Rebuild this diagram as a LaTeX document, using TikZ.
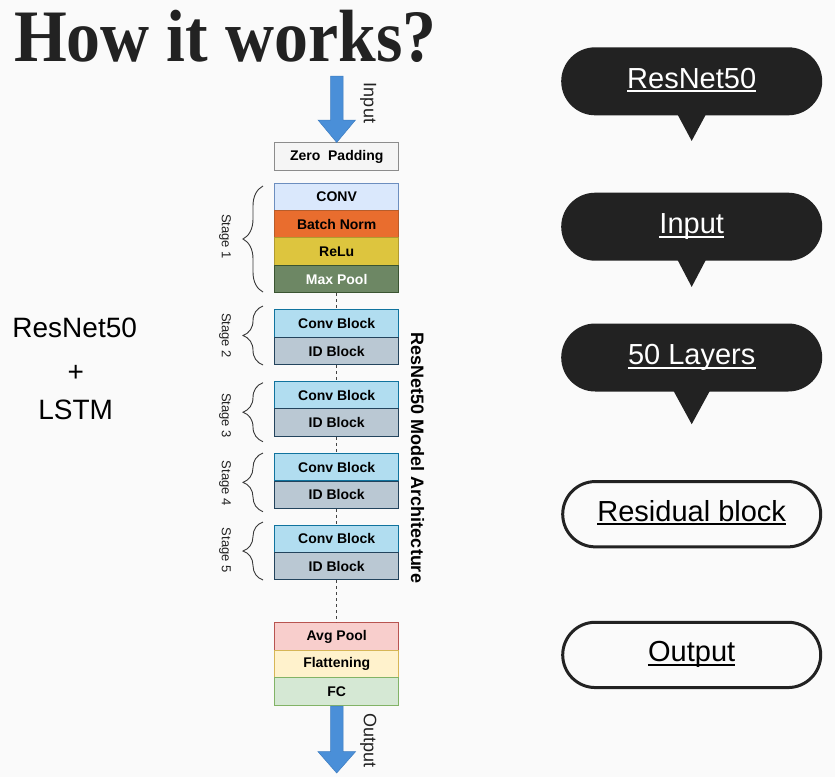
\documentclass[tikz,border=0pt]{standalone}
\usepackage{fontspec}
\usepackage{graphicx}
\setmainfont{Liberation Sans}
\newfontfamily\headfont{Liberation Serif}
\usetikzlibrary{decorations.pathreplacing,shapes.misc,calc}

\definecolor{pagebg}{HTML}{FAFAFA}
\definecolor{ink}{HTML}{222222}
\definecolor{zpfill}{HTML}{F5F5F5}\definecolor{zpdraw}{HTML}{8C8C8C}
\definecolor{cvfill}{HTML}{DAE8FC}\definecolor{cvdraw}{HTML}{6C8EBF}
\definecolor{bnfill}{HTML}{E96D2E}\definecolor{bndraw}{HTML}{B85C2A}
\definecolor{rlfill}{HTML}{DDC53E}\definecolor{rldraw}{HTML}{B09A30}
\definecolor{mpfill}{HTML}{6D8764}\definecolor{mpdraw}{HTML}{3A5431}
\definecolor{cbfill}{HTML}{B1DDF0}\definecolor{cbdraw}{HTML}{10739E}
\definecolor{idfill}{HTML}{BAC8D3}\definecolor{iddraw}{HTML}{23445D}
\definecolor{apfill}{HTML}{F8CECC}\definecolor{apdraw}{HTML}{B85450}
\definecolor{flfill}{HTML}{FFF2CC}\definecolor{fldraw}{HTML}{D6B656}
\definecolor{fcfill}{HTML}{D5E8D4}\definecolor{fcdraw}{HTML}{82B366}
\definecolor{flow}{HTML}{4A8FD8}\definecolor{flowedge}{HTML}{3D7CC0}

\begin{document}
\begin{tikzpicture}[x=1pt,y=-1pt,
  layer/.style={draw, line width=0.9pt, minimum width=124pt, minimum height=27.4pt,
    inner sep=0pt, text=black, font=\bfseries\fontsize{14}{16}\selectfont},
  stagebrace/.style={draw=ink!90, line width=0.9pt, decorate,
    decoration={brace, amplitude=20pt, aspect=0.5}},
  stagelbl/.style={rotate=-90, inner sep=0pt, text=ink, font=\fontsize{13}{15}\selectfont},
  sidelbl/.style={rotate=-90, inner sep=0pt, text=ink, font=\fontsize{18}{20}\selectfont},
  flowline/.style={draw=ink!85, line width=0.9pt, dash pattern=on 3pt off 3pt},
  blockarrow/.style={fill=flow, draw=flowedge, line width=0.5pt, line join=miter},
  bubble/.style={rounded rectangle, fill=ink, draw=none, minimum width=261pt,
    minimum height=68pt, inner sep=0pt},
  pill/.style={rounded rectangle, fill=pagebg, draw=ink, line width=3pt,
    minimum width=258pt, minimum height=65.3pt, inner sep=0pt},
  pilltext/.style={anchor=base, inner sep=0pt, font=\fontsize{29}{34}\selectfont},
  lefttext/.style={anchor=base, inner sep=0pt, text=black, font=\fontsize{28}{33}\selectfont}]

\path[use as bounding box, fill=pagebg] (0,0) rectangle (835,777);

% heading
\node[anchor=base west, inner sep=0pt, text=ink,
  font=\headfont\bfseries\fontsize{74}{80}\selectfont] (title) at (14,61.7)
  {\scalebox{0.917}[1]{How it works?}};

% left caption
\node[lefttext] (capA) at (74.7,337) {ResNet50};
\node[lefttext] (capB) at (75.7,381) {+};
\node[lefttext] (capC) at (75.7,419.3) {LSTM};

% layer stack
\node[layer, fill=zpfill, draw=zpdraw] (zp) at (336.7,156.6) {Zero\ \ Padding};
\node[layer, fill=cvfill, draw=cvdraw] (cv) at (336.7,196.9) {CONV};
\node[layer, fill=bnfill, draw=bndraw] (bn) at (336.7,224.3) {Batch Norm};
\node[layer, fill=rlfill, draw=rldraw] (rl) at (336.7,251.6) {ReLu};
\node[layer, fill=mpfill, draw=mpdraw, text=white] (mp) at (336.7,279.0) {Max Pool};

\node[layer, fill=cbfill, draw=cbdraw] (c2) at (336.7,323.6) {Conv Block};
\node[layer, fill=idfill, draw=iddraw] (i2) at (336.7,351.1) {ID Block};
\node[layer, fill=cbfill, draw=cbdraw] (c3) at (336.7,395.0) {Conv Block};
\node[layer, fill=idfill, draw=iddraw] (i3) at (336.7,422.6) {ID Block};
\node[layer, fill=cbfill, draw=cbdraw] (c4) at (336.7,467.0) {Conv Block};
\node[layer, fill=idfill, draw=iddraw] (i4) at (336.7,494.7) {ID Block};
\node[layer, fill=cbfill, draw=cbdraw] (c5) at (336.7,538.7) {Conv Block};
\node[layer, fill=idfill, draw=iddraw] (i5) at (336.7,566.2) {ID Block};

\node[layer, fill=apfill, draw=apdraw] (ap) at (336.7,636.5) {Avg Pool};
\node[layer, fill=flfill, draw=fldraw] (fl) at (336.7,664.0) {Flattening};
\node[layer, fill=fcfill, draw=fcdraw] (fc) at (336.7,691.5) {FC};

% dashed links between stages
\draw[flowline] (mp.south) -- (c2.north);
\draw[flowline] (i2.south) -- (c3.north);
\draw[flowline] (i3.south) -- (c4.north);
\draw[flowline] (i4.south) -- (c5.north);
\draw[flowline] (i5.south) -- (ap.north);

% input / output arrows
\draw[blockarrow] (330.5,76) -- (343,76) -- (343,120) -- (355.5,120)
  -- (zp.north) -- (318,120) -- (330.5,120) -- cycle;
\coordinate (outTip) at (336.7,773);
\draw[blockarrow] ($(fc.south)+(-6.2,0.5)$) -- ($(fc.south)+(6.3,0.5)$)
  -- (343,751.7) -- (355.5,751.7) -- (outTip) -- (318,751.7) -- (330.5,751.7) -- cycle;
\node[sidelbl] (inLbl) at (368.3,103) {Input};
\node[sidelbl] (outLbl) at (368.3,740.5) {Output};

% stage braces and labels
\draw[stagebrace] (263,292) -- (263,186);
\draw[stagebrace] (263,365) -- (263,306);
\draw[stagebrace] (263,441.7) -- (263,382.7);
\draw[stagebrace] (263,511.7) -- (263,453);
\draw[stagebrace] (263,580) -- (263,522);
\node[stagelbl] (s1) at (225,236.5) {Stage 1};
\node[stagelbl] (s2) at (225,335.5) {Stage 2};
\node[stagelbl] (s3) at (225,415.5) {Stage 3};
\node[stagelbl] (s4) at (225,483.3) {Stage 4};
\node[stagelbl] (s5) at (225,550.3) {Stage 5};

\node[rotate=-90, inner sep=0pt, text=black, font=\bfseries\fontsize{18}{20}\selectfont]
  (arch) at (417.5,458) {ResNet50 Model Architecture};

% speech bubbles
\foreach \nm/\cy/\txt/\hw/\drop in {b1/81.3/ResNet50/14.7/25.4, b2/226.7/Input/14.7/26,
    b3/357.5/50 Layers/18.8/32.5} {
  \node[bubble] (\nm) at (691.7,\cy) {};
  \fill[ink] ($(\nm.south)+(-\hw,-2)$) -- ($(\nm.south)+(\hw,-2)$)
    -- ($(\nm.south)+(0,\drop)$) -- cycle;
  \node[pilltext, text=white] (\nm t) at ($(\nm.center)+(0,6.8)$) {\txt};
  \draw[white, line width=2pt] ($(\nm t.base west)+(0,3.2)$) -- ($(\nm t.base east)+(0,3.2)$);
}

% outlined pills
\foreach \nm/\cy/\txt in {p1/514.2/Residual block, p2/654.9/Output} {
  \node[pill] (\nm) at (691.7,\cy) {};
  \node[pilltext, text=black] (\nm t) at ($(\nm.center)+(0,7)$) {\txt};
  \draw[black, line width=2pt] ($(\nm t.base west)+(0,3.2)$) -- ($(\nm t.base east)+(0,3.2)$);
}
\end{tikzpicture}
\end{document}
